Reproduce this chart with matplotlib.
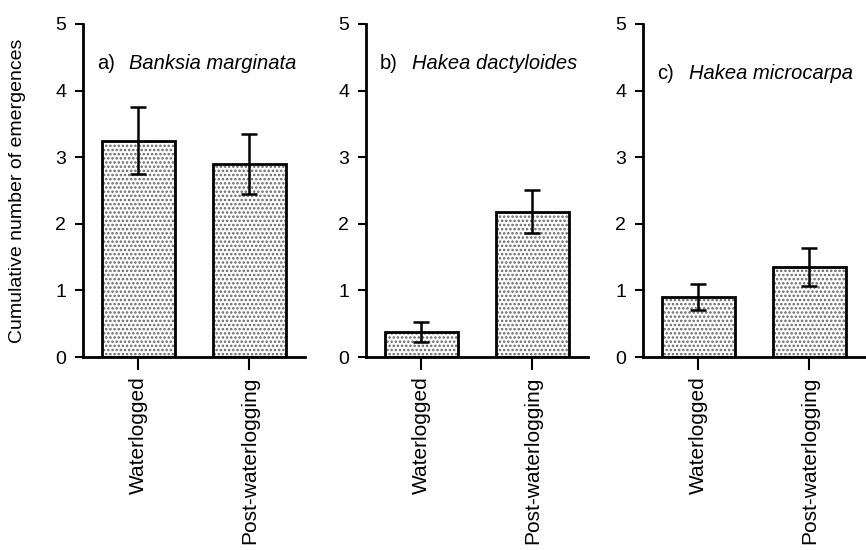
import matplotlib.pyplot as plt
import numpy as np

plt.rcParams['font.family'] = ['Liberation Sans', 'DejaVu Sans']
plt.rcParams['hatch.linewidth'] = 1.2
plt.rcParams['hatch.color'] = '#666666'

categories = ["Waterlogged", "Post-waterlogging"]
panel_labels = ["a)", "b)", "c)"]
species = ["Banksia marginata", "Hakea dactyloides", "Hakea microcarpa"]
means = [
    [3.25, 2.90],
    [0.37, 2.18],
    [0.90, 1.35],
]
errors = [
    [0.50, 0.45],
    [0.15, 0.32],
    [0.19, 0.29],
]
yticks = [0, 1, 2, 3, 4, 5]

fig = plt.figure(figsize=(8.66, 5.5), dpi=100)
lefts = [83 / 866, 366 / 866, 643 / 866]
title_y = [4.41, 4.41, 4.25]
x = np.arange(len(categories))

for i in range(3):
    ax = fig.add_axes([lefts[i], 1 - 357 / 550, 0.256, 333 / 550])
    # stipple fill first, outline on top
    ax.bar(x, means[i], width=0.66, color='white', hatch='....',
           edgecolor='#666666', linewidth=0, zorder=2)
    ax.bar(x, means[i], width=0.66, fill=False, edgecolor='black',
           linewidth=2, zorder=3)
    ax.errorbar(x, means[i], yerr=errors[i], fmt='none', ecolor='black',
                elinewidth=1.8, capsize=5.5, capthick=1.8, zorder=4)

    ax.set_xlim(-0.5, 1.5)
    ax.set_ylim(0, 5)
    ax.set_yticks(yticks)
    ax.set_xticks(x)
    ax.set_xticklabels(categories, rotation=90, fontsize=15)
    ax.tick_params(axis='y', labelsize=14, length=6, width=1.5, pad=6)
    ax.tick_params(axis='x', length=9, width=1.5, pad=5)
    for s in ['top', 'right']:
        ax.spines[s].set_visible(False)
    for s in ['left', 'bottom']:
        ax.spines[s].set_linewidth(2)

    # panel letter, then italic species name
    ax.annotate(panel_labels[i], xy=(-0.5, title_y[i]), xytext=(10, 0),
                textcoords='offset points', fontsize=14.5, va='center', ha='left')
    ax.annotate(species[i], xy=(-0.5, title_y[i]), xytext=(33, 0),
                textcoords='offset points', fontsize=14.5, style='italic',
                va='center', ha='left')

fig.text(18 / 866, 1 - 191 / 550, "Cumulative number of emergences",
         rotation=90, fontsize=14, va='center', ha='center')

fig.savefig("out.png", dpi=100)
